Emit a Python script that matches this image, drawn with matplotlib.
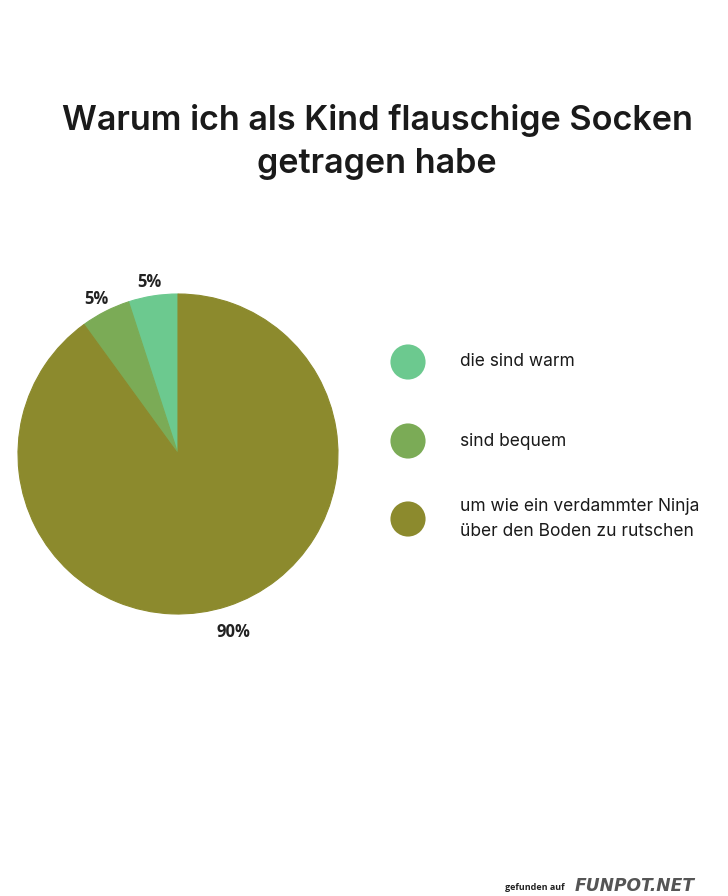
import matplotlib
matplotlib.use("Agg")
import matplotlib.pyplot as plt

# data
categories = ["die sind warm", "sind bequem",
              "um wie ein verdammter Ninja\nüber den Boden zu rutschen"]
shares = [5, 5, 90]
colors = ["#6cc98f", "#7bab56", "#8c8a2d"]
title = "Warum ich als Kind flauschige Socken\ngetragen habe"

plt.rcParams['font.family'] = ['Inter', 'DejaVu Sans']

W, H = 728, 896
fig = plt.figure(figsize=(W / 100, H / 100), dpi=100)
fig.patch.set_facecolor("white")

# title
fig.text(377 / W, 1 - 142 / H, title, ha="center", va="center",
         fontsize=24.6, fontweight="semibold", color="#1a1a1a", linespacing=1.45)

# pie, center (178, 454), radius 160 px
ax = fig.add_axes([18 / W, (H - 614) / H, 320 / W, 320 / H])
wedges, texts, autotexts = ax.pie(
    shares, colors=colors, startangle=90, counterclock=True,
    autopct=lambda p: f"{p:.0f}%", pctdistance=1.13,
    wedgeprops=dict(linewidth=0.8),
    textprops=dict(fontsize=12, fontweight="bold", color="#222222",
                   family=["Open Sans", "DejaVu Sans"]))
for w, c in zip(wedges, colors):
    w.set_edgecolor(c)
# labels sit a little lower than the default centre
for t in autotexts:
    x, y = t.get_position()
    t.set_position((x, y - 0.038))
ax.set_xlim(-1, 1)
ax.set_ylim(-1, 1)
ax.set_aspect("equal")

# legend drawn in pixel space
lax = fig.add_axes([0, 0, 1, 1])
lax.set_xlim(0, W)
lax.set_ylim(H, 0)
lax.axis("off")
lax.set_zorder(-1)
legend_y = [362, 441, 519]
for y, lab, col in zip(legend_y, categories, colors):
    lax.scatter([408], [y], s=640, color=col, edgecolors="none")
    lax.text(460, y, lab, ha="left", va="center", fontsize=12.5,
             color="#1a1a1a", linespacing=1.55)

# watermark
lax.text(565, 887, "gefunden auf", ha="right", va="center",
         fontsize=6.5, fontweight="bold", color="#222222",
         family=["Open Sans", "DejaVu Sans"])
lax.text(575, 886, "FUNPOT.NET", ha="left", va="center", fontsize=12.3,
         fontweight="heavy", fontstyle="italic", color="#555555",
         family=["DejaVu Sans"])

fig.savefig("out.png", dpi=100, facecolor="white")
